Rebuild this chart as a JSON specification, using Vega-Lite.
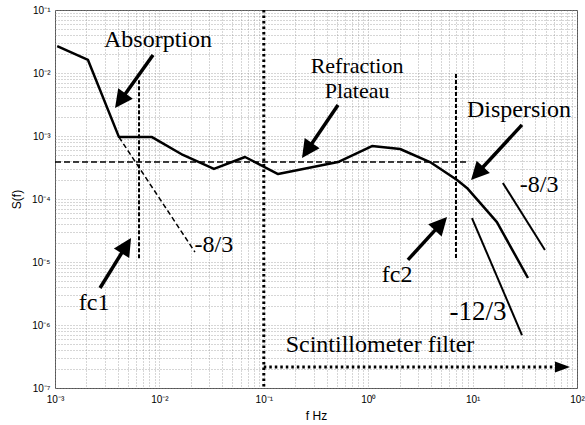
{
  "$schema": "https://vega.github.io/schema/vega-lite/v6.json",
  "width": 522,
  "height": 378,
  "autosize": {"type": "none"},
  "padding": {"left": 55, "top": 10, "right": 8, "bottom": 37},
  "background": "white",
  "config": {
    "view": {"stroke": "#555", "strokeWidth": 1},
    "axis": {
      "grid": true,
      "gridDash": [1, 2],
      "gridColor": "#8a8a8a",
      "gridWidth": 1,
      "gridOpacity": 0.7,
      "ticks": false,
      "domain": false,
      "labelOverlap": false,
      "labelFlush": false,
      "labelFont": "Liberation Sans",
      "labelFontSize": 10,
      "labelColor": "#000",
      "titleFont": "Liberation Sans",
      "titleFontSize": 12,
      "titleFontWeight": "normal",
      "titleColor": "#000",
      "labelExpr": "abs(log(datum.value)/LN10 - round(log(datum.value)/LN10)) < 0.001 ? '10' + (round(log(datum.value)/LN10) < 0 ? '⁻' : '') + ['⁰','¹','²','³','⁴','⁵','⁶','⁷'][abs(round(log(datum.value)/LN10))] : ''"
    }
  },
  "datasets": {
    "curves": [
      {"series": "main", "i": 1, "f": 0.00105, "S": 0.0268},
      {"series": "main", "i": 2, "f": 0.00207, "S": 0.0161},
      {"series": "main", "i": 3, "f": 0.0041, "S": 0.00096},
      {"series": "main", "i": 4, "f": 0.0085, "S": 0.00096},
      {"series": "main", "i": 5, "f": 0.0168, "S": 0.0005},
      {"series": "main", "i": 6, "f": 0.0333, "S": 0.0003},
      {"series": "main", "i": 7, "f": 0.0661, "S": 0.000464},
      {"series": "main", "i": 8, "f": 0.137, "S": 0.000249},
      {"series": "main", "i": 9, "f": 0.514, "S": 0.000386},
      {"series": "main", "i": 10, "f": 1.087, "S": 0.000693},
      {"series": "main", "i": 11, "f": 2.02, "S": 0.000622},
      {"series": "main", "i": 12, "f": 3.91, "S": 0.000386},
      {"series": "main", "i": 13, "f": 7.1, "S": 0.0002},
      {"series": "main", "i": 14, "f": 8.83, "S": 0.00015},
      {"series": "main", "i": 15, "f": 17.1, "S": 0.000043},
      {"series": "main", "i": 16, "f": 33.9, "S": 0.00000557},
      {"series": "slope83", "i": 1, "f": 19.5, "S": 0.000179},
      {"series": "slope83", "i": 2, "f": 49.3, "S": 0.0000155},
      {"series": "slope123", "i": 1, "f": 9.86, "S": 0.0000499},
      {"series": "slope123", "i": 2, "f": 29.7, "S": 0.000000693},
      {"series": "slope83dash", "i": 1, "f": 0.0041, "S": 0.00096},
      {"series": "slope83dash", "i": 2, "f": 0.0219, "S": 0.0000144},
      {"series": "plateau", "i": 1, "f": 0.001, "S": 0.000386},
      {"series": "plateau", "i": 2, "f": 9.03, "S": 0.000386},
      {"series": "fc1", "i": 1, "f": 0.00638, "S": 0.0077},
      {"series": "fc1", "i": 2, "f": 0.00638, "S": 0.0000108},
      {"series": "fc2", "i": 1, "f": 6.93, "S": 0.00964},
      {"series": "fc2", "i": 2, "f": 6.93, "S": 0.0000108},
      {"series": "cut", "i": 1, "f": 0.1, "S": 0.1},
      {"series": "cut", "i": 2, "f": 0.1, "S": 0.0000001},
      {"series": "scint", "i": 1, "f": 0.1, "S": 0.000000215},
      {"series": "scint", "i": 2, "f": 68.7, "S": 0.000000215}
    ],
    "arrows": [
      {"name": "abs", "f": 0.00869, "S": 0.0193, "f2": 0.00428, "S2": 0.00373, "ft": 0.00376, "St": 0.00278},
      {"name": "ref", "f": 0.514, "S": 0.0031, "f2": 0.263, "S2": 0.000607, "ft": 0.2323, "St": 0.000448},
      {"name": "dis", "f": 29.7, "S": 0.0015, "f2": 11.2, "S2": 0.000261, "ft": 9.66, "St": 0.0002},
      {"name": "fc1", "f": 0.0027, "S": 0.00000387, "f2": 0.00475, "S2": 0.0000176, "ft": 0.00535, "St": 0.0000241},
      {"name": "fc2", "f": 2.4, "S": 0.0000108, "f2": 4.91, "S2": 0.0000395, "ft": 5.69, "St": 0.0000518},
      {"name": "scint", "f": 68.7, "S": 0.000000215, "f2": 68.7, "S2": 0.000000215, "ft": 85.7, "St": 0.000000215}
    ],
    "labels": [
      {"text": "Absorption", "f": 0.0097, "S": 0.0259},
      {"text": "Dispersion", "f": 27.8, "S": 0.002},
      {"text": "-8/3", "f": 43.3, "S": 0.000129},
      {"text": "-8/3", "f": 0.0333, "S": 0.0000144},
      {"text": "fc1", "f": 0.00237, "S": 0.00000173},
      {"text": "fc2", "f": 1.89, "S": 0.00000482},
      {"text": "Scintillometer filter", "f": 1.297, "S": 0.000000373}
    ],
    "stacklabels": [
      {"text": "Refraction", "f": 0.782, "S": 0.0101},
      {"text": "Plateau", "f": 0.782, "S": 0.00401}
    ],
    "biglabels": [
      {"text": "-12/3", "f": 11.27, "S": 0.0000012}
    ]
  },
  "layer": [
    {
      "data": {"name": "curves"},
      "transform": [{"filter": "datum.series == 'main'"}],
      "mark": {"type": "line", "color": "#000", "strokeWidth": 2.5, "strokeJoin": "round"},
      "encoding": {
        "x": {
          "field": "f", "type": "quantitative",
          "scale": {"type": "log", "domain": [0.001, 100], "nice": false},
          "axis": {
            "title": "f Hz",
            "labelPadding": 6,
            "titlePadding": 6,
            "values": [0.001,0.002,0.003,0.004,0.005,0.006,0.007,0.008,0.009,0.01,0.02,0.03,0.04,0.05,0.06,0.07,0.08,0.09,0.1,0.2,0.3,0.4,0.5,0.6,0.7,0.8,0.9,1,2,3,4,5,6,7,8,9,10,20,30,40,50,60,70,80,90,100]
          }
        },
        "y": {
          "field": "S", "type": "quantitative",
          "scale": {"type": "log", "domain": [0.0000001, 0.1], "nice": false},
          "axis": {
            "title": "S(f)",
            "labelPadding": 5,
            "titlePadding": 8,
            "values": [1e-7,2e-7,3e-7,4e-7,5e-7,6e-7,7e-7,8e-7,9e-7,1e-6,2e-6,3e-6,4e-6,5e-6,6e-6,7e-6,8e-6,9e-6,1e-5,2e-5,3e-5,4e-5,5e-5,6e-5,7e-5,8e-5,9e-5,0.0001,0.0002,0.0003,0.0004,0.0005,0.0006,0.0007,0.0008,0.0009,0.001,0.002,0.003,0.004,0.005,0.006,0.007,0.008,0.009,0.01,0.02,0.03,0.04,0.05,0.06,0.07,0.08,0.09,0.1]
          }
        },
        "order": {"field": "i"}
      }
    },
    {
      "data": {"name": "curves"},
      "transform": [{"filter": "datum.series == 'slope83' || datum.series == 'slope123'"}],
      "mark": {"type": "line", "color": "#000", "strokeWidth": 2},
      "encoding": {
        "x": {"field": "f", "type": "quantitative"},
        "y": {"field": "S", "type": "quantitative"},
        "detail": {"field": "series"},
        "order": {"field": "i"}
      }
    },
    {
      "data": {"name": "curves"},
      "transform": [{"filter": "datum.series == 'slope83dash'"}],
      "mark": {"type": "line", "color": "#000", "strokeWidth": 1.5, "strokeDash": [5, 3]},
      "encoding": {
        "x": {"field": "f", "type": "quantitative"},
        "y": {"field": "S", "type": "quantitative"},
        "order": {"field": "i"}
      }
    },
    {
      "data": {"name": "curves"},
      "transform": [{"filter": "datum.series == 'plateau'"}],
      "mark": {"type": "line", "color": "#000", "strokeWidth": 1.6, "strokeDash": [6, 3]},
      "encoding": {
        "x": {"field": "f", "type": "quantitative"},
        "y": {"field": "S", "type": "quantitative"},
        "order": {"field": "i"}
      }
    },
    {
      "data": {"name": "curves"},
      "transform": [{"filter": "datum.series == 'fc1' || datum.series == 'fc2'"}],
      "mark": {"type": "line", "color": "#000", "strokeWidth": 2, "strokeDash": [4, 2]},
      "encoding": {
        "x": {"field": "f", "type": "quantitative"},
        "y": {"field": "S", "type": "quantitative"},
        "detail": {"field": "series"},
        "order": {"field": "i"}
      }
    },
    {
      "data": {"name": "curves"},
      "transform": [{"filter": "datum.series == 'cut' || datum.series == 'scint'"}],
      "mark": {"type": "line", "color": "#000", "strokeWidth": 3, "strokeDash": [2.5, 3]},
      "encoding": {
        "x": {"field": "f", "type": "quantitative"},
        "y": {"field": "S", "type": "quantitative"},
        "detail": {"field": "series"},
        "order": {"field": "i"}
      }
    },
    {
      "data": {"name": "arrows"},
      "transform": [{"filter": "datum.name != 'scint'"}],
      "mark": {"type": "rule", "color": "#000", "strokeWidth": 3.5},
      "encoding": {
        "x": {"field": "f", "type": "quantitative"},
        "y": {"field": "S", "type": "quantitative"},
        "x2": {"field": "f2"},
        "y2": {"field": "S2"}
      }
    },
    {
      "data": {"name": "arrows"},
      "transform": [{"filter": "datum.name == 'abs'"}],
      "mark": {"type": "point", "filled": true, "color": "#000", "opacity": 1, "shape": "M0,0 L0.5,1 L-0.5,1 Z", "size": 1296, "angle": 215.6},
      "encoding": {"x": {"field": "ft", "type": "quantitative"}, "y": {"field": "St", "type": "quantitative"}}
    },
    {
      "data": {"name": "arrows"},
      "transform": [{"filter": "datum.name == 'ref'"}],
      "mark": {"type": "point", "filled": true, "color": "#000", "opacity": 1, "shape": "M0,0 L0.5,1 L-0.5,1 Z", "size": 1296, "angle": 214.2},
      "encoding": {"x": {"field": "ft", "type": "quantitative"}, "y": {"field": "St", "type": "quantitative"}}
    },
    {
      "data": {"name": "arrows"},
      "transform": [{"filter": "datum.name == 'dis'"}],
      "mark": {"type": "point", "filled": true, "color": "#000", "opacity": 1, "shape": "M0,0 L0.5,1 L-0.5,1 Z", "size": 1296, "angle": 222.8},
      "encoding": {"x": {"field": "ft", "type": "quantitative"}, "y": {"field": "St", "type": "quantitative"}}
    },
    {
      "data": {"name": "arrows"},
      "transform": [{"filter": "datum.name == 'fc1'"}],
      "mark": {"type": "point", "filled": true, "color": "#000", "opacity": 1, "shape": "M0,0 L0.5,1 L-0.5,1 Z", "size": 1296, "angle": 31.8},
      "encoding": {"x": {"field": "ft", "type": "quantitative"}, "y": {"field": "St", "type": "quantitative"}}
    },
    {
      "data": {"name": "arrows"},
      "transform": [{"filter": "datum.name == 'fc2'"}],
      "mark": {"type": "point", "filled": true, "color": "#000", "opacity": 1, "shape": "M0,0 L0.5,1 L-0.5,1 Z", "size": 1296, "angle": 42.2},
      "encoding": {"x": {"field": "ft", "type": "quantitative"}, "y": {"field": "St", "type": "quantitative"}}
    },
    {
      "data": {"name": "arrows"},
      "transform": [{"filter": "datum.name == 'scint'"}],
      "mark": {"type": "point", "filled": true, "color": "#000", "opacity": 1, "shape": "M0,0 L0.37,1 L-0.37,1 Z", "size": 900, "angle": 90},
      "encoding": {"x": {"field": "ft", "type": "quantitative"}, "y": {"field": "St", "type": "quantitative"}}
    },
    {
      "data": {"name": "labels"},
      "mark": {"type": "text", "font": "Liberation Serif", "fontSize": 24, "color": "#000", "align": "center", "baseline": "alphabetic"},
      "encoding": {
        "x": {"field": "f", "type": "quantitative"},
        "y": {"field": "S", "type": "quantitative"},
        "text": {"field": "text"}
      }
    },
    {
      "data": {"name": "stacklabels"},
      "mark": {"type": "text", "font": "Liberation Serif", "fontSize": 22, "color": "#000", "align": "center", "baseline": "alphabetic"},
      "encoding": {
        "x": {"field": "f", "type": "quantitative"},
        "y": {"field": "S", "type": "quantitative"},
        "text": {"field": "text"}
      }
    },
    {
      "data": {"name": "biglabels"},
      "mark": {"type": "text", "font": "Liberation Serif", "fontSize": 27, "color": "#000", "align": "center", "baseline": "alphabetic"},
      "encoding": {
        "x": {"field": "f", "type": "quantitative"},
        "y": {"field": "S", "type": "quantitative"},
        "text": {"field": "text"}
      }
    }
  ]
}
